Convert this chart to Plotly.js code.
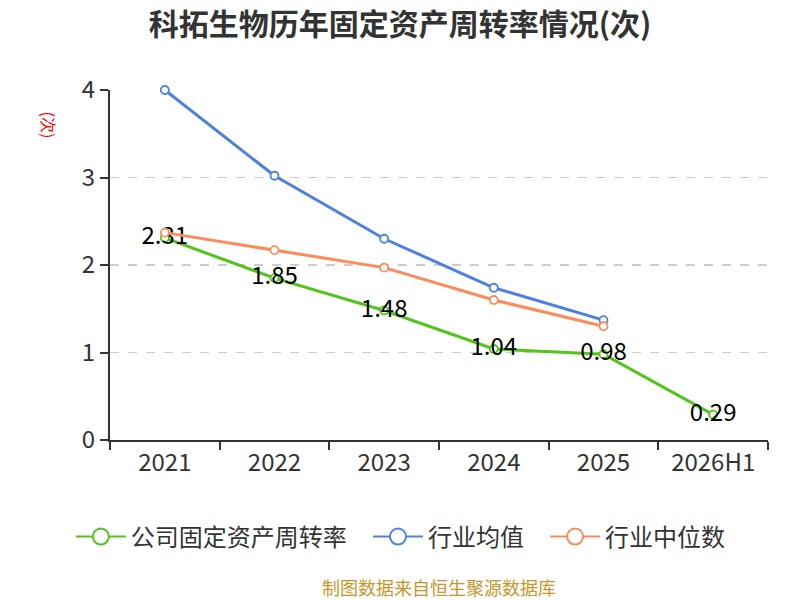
<!DOCTYPE html>
<html>
<head>
<meta charset="utf-8">
<script src="https://cdn.plot.ly/plotly-3.0.1.min.js"></script>
<style>
  html, body { margin: 0; padding: 0; background: #fff; }
  #plot { width: 800px; height: 600px; }
</style>
</head>
<body>
<div id="plot"></div>
<script>
// values
const years = ["2021", "2022", "2023", "2024", "2025", "2026H1"]
const companyTurnover = [2.31, 1.85, 1.48, 1.04, 0.98, 0.29]
const industryMean = [4.00, 3.02, 2.30, 1.74, 1.37]
const industryMedian = [2.37, 2.17, 1.97, 1.60, 1.30]

const seriesNames = ["公司固定资产周转率", "行业均值", "行业中位数"]
const colors = ["#52c41a", "#4e80e2", "#fd8b5a"]

const font = "Noto Sans CJK SC, Noto Sans, sans-serif"
const gap = "\u00a0\u00a0\u00a0"

function lineTrace(name, xs, ys, color, withText) {
  const trace = {
    type: "scatter",
    mode: withText ? "lines+markers+text" : "lines+markers",
    name: name,
    x: xs,
    y: ys,
    showlegend: false,
    line: { color: color, width: 3 },
    marker: { symbol: "circle", size: 8, color: "#ffffff", line: { color: color, width: 1.8 } },
    hoverinfo: "skip",
    cliponaxis: false
  }
  if (withText) {
    trace.text = ys.map(v => v.toFixed(2))
    trace.textposition = "middle center"
    trace.textfont = { family: font, size: 24, color: "#000000" }
  }
  return trace
}

// empty traces only for the legend, so its circles can be bigger
function legendTrace(name, color) {
  return {
    type: "scatter",
    mode: "lines+markers",
    name: name,
    x: [null],
    y: [null],
    line: { color: color, width: 2 },
    marker: { symbol: "circle", size: 16, color: "#ffffff", line: { color: color, width: 2 } },
    hoverinfo: "skip"
  }
}

const data = [
  lineTrace(seriesNames[0], years, companyTurnover, colors[0], true),
  lineTrace(seriesNames[1], years.slice(0, industryMean.length), industryMean, colors[1], false),
  lineTrace(seriesNames[2], years.slice(0, industryMedian.length), industryMedian, colors[2], false),
  legendTrace(seriesNames[0] + gap, colors[0]),
  legendTrace(seriesNames[1] + gap, colors[1]),
  legendTrace(seriesNames[2], colors[2])
]

const layout = {
  width: 800,
  height: 600,
  margin: { l: 110, r: 32, t: 90, b: 160, pad: 0 },
  paper_bgcolor: "#ffffff",
  plot_bgcolor: "#ffffff",
  font: { family: font, color: "#333333" },
  title: {
    text: "<b>科拓生物历年固定资产周转率情况(次)</b>",
    font: { family: font, size: 30, color: "#333333" },
    x: 0.5,
    xanchor: "center",
    y: 0.96,
    yanchor: "middle"
  },
  xaxis: {
    type: "category",
    range: [-0.5, 5.5],
    showline: true,
    linecolor: "#333333",
    linewidth: 2,
    ticks: "outside",
    tickson: "boundaries",
    ticklen: 8,
    tickwidth: 2,
    tickcolor: "#333333",
    showgrid: false,
    zeroline: false,
    tickfont: { family: font, size: 24, color: "#333333" },
    fixedrange: true
  },
  yaxis: {
    range: [0, 4],
    dtick: 1,
    showline: true,
    linecolor: "#333333",
    linewidth: 2,
    ticks: "outside",
    ticklen: 8,
    tickwidth: 2,
    tickcolor: "#333333",
    showgrid: true,
    gridcolor: "#cccccc",
    griddash: "dash",
    gridwidth: 1.5,
    zeroline: false,
    tickfont: { family: font, size: 24, color: "#333333" },
    fixedrange: true
  },
  showlegend: true,
  legend: {
    orientation: "h",
    x: 0.442,
    xanchor: "center",
    y: -0.277,
    yanchor: "middle",
    font: { family: font, size: 24, color: "#333333" },
    itemwidth: 50
  },
  annotations: [
    {
      text: "(次)",
      xref: "paper",
      yref: "paper",
      x: -0.092,
      y: 0.9,
      xanchor: "center",
      yanchor: "middle",
      showarrow: false,
      textangle: 90,
      font: { family: font, size: 16, color: "#ff0000" }
    },
    {
      text: "制图数据来自恒生聚源数据库",
      xref: "paper",
      yref: "paper",
      x: 0.5,
      y: -0.421,
      xanchor: "center",
      yanchor: "middle",
      showarrow: false,
      font: { family: font, size: 18, color: "#c8952a" }
    }
  ]
}

Plotly.newPlot("plot", data, layout, { displayModeBar: false, staticPlot: true })
</script>
</body>
</html>
